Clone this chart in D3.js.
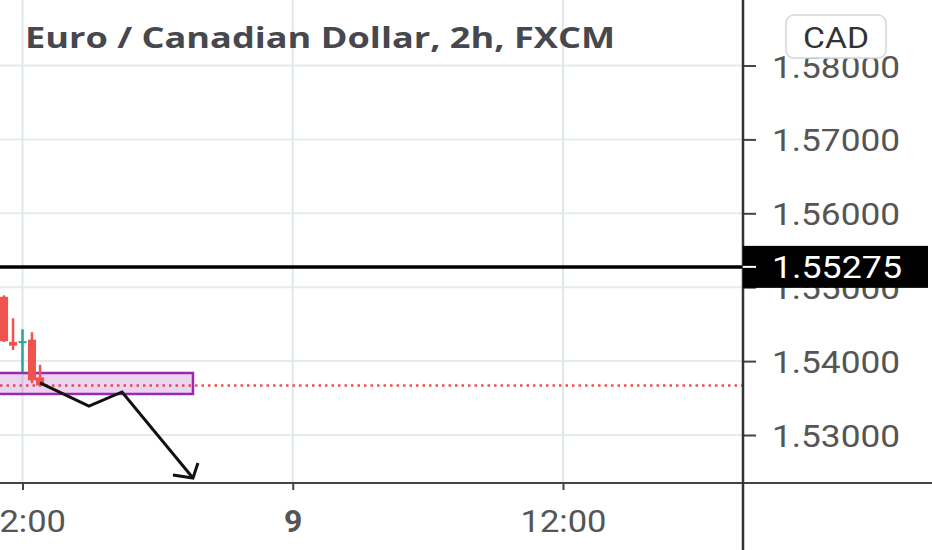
<!DOCTYPE html>
<html>
<head>
<meta charset="utf-8">
<script src="https://cdn.jsdelivr.net/npm/d3@7"></script>
<style>
html,body{margin:0;padding:0;background:#fff;}
svg{display:block;}
</style>
</head>
<body>
<svg id="chart" width="932" height="550"></svg>
<script>
// ---- data ----
const title = "Euro / Canadian Dollar, 2h, FXCM";
const currency = "CAD";
// candle times (hours from day 8 00:00), OHLC
const candleTime  = [11.18, 11.58, 12.0, 12.42, 12.78];
const candleOpen  = [1.5487, 1.5426, 1.5425, 1.5429, 1.5378];
const candleHigh  = [1.5489, 1.5458, 1.5443, 1.5439, 1.5395];
const candleLow   = [1.5426, 1.5415, 1.5385, 1.5370, 1.5367];
const candleClose = [1.5427, 1.5421, 1.5427, 1.5374, 1.5367];
const yTicks = [1.53, 1.54, 1.55, 1.56, 1.57, 1.58];
const xTickHours  = [12, 24, 36];
const xTickLabels = ["12:00", "9", "12:00"];
const xTickBold   = [false, true, false];
const priceLine = 1.55275;
const lastPrice = 1.5367;
// drawn zone (rectangle) and arrow path
const zoneTime  = [10.9, 19.57];
const zonePrice = [1.53839, 1.53555];
const arrowTime  = [12.78, 14.95, 16.42, 19.57];
const arrowPrice = [1.53704, 1.53392, 1.53582, 1.52418];
const arrowHeadTime  = [18.68, 19.57, 19.79];
const arrowHeadPrice = [1.52459, 1.52418, 1.52621];

// ---- layout ----
const W = 932, H = 550;
const axisX = 743, axisY = 483;
const svg = d3.select("#chart");

const x = d3.scaleLinear().domain([12, 36]).range([22.5, 563]);
const y = d3.scaleLinear().domain([1.53, 1.58]).range([435, 65.5]);

const gridColor = "#e4ebee";

// grid
svg.append("g").selectAll("line.h").data(yTicks).join("line")
  .attr("x1", 0).attr("x2", axisX)
  .attr("y1", d => y(d)).attr("y2", d => y(d))
  .attr("stroke", gridColor).attr("stroke-width", 2);
svg.append("g").selectAll("line.v").data(xTickHours).join("line")
  .attr("x1", d => x(d)).attr("x2", d => x(d))
  .attr("y1", 0).attr("y2", axisY)
  .attr("stroke", "#dfe8eb").attr("stroke-width", 2);

// title
svg.append("text")
  .attr("x", 25).attr("y", 48)
  .attr("font-family", "'Open Sans', sans-serif")
  .attr("font-weight", 700)
  .attr("font-size", 28)
  .attr("fill", "#46484e")
  .attr("textLength", 590).attr("lengthAdjust", "spacingAndGlyphs")
  .text(title);

// last price dotted line
svg.append("line")
  .attr("x1", 0).attr("x2", axisX)
  .attr("y1", y(lastPrice)).attr("y2", y(lastPrice))
  .attr("stroke", "#ef5350").attr("stroke-width", 2.5)
  .attr("stroke-dasharray", "2.5,4");

// zone rect
svg.append("rect")
  .attr("x", x(zoneTime[0])).attr("y", y(zonePrice[0]))
  .attr("width", x(zoneTime[1]) - x(zoneTime[0]))
  .attr("height", y(zonePrice[1]) - y(zonePrice[0]))
  .attr("fill", "rgba(156,39,176,0.2)")
  .attr("stroke", "#9c27b0").attr("stroke-width", 2.5);

// candles
const candles = candleTime.map((t, i) => ({
  t, o: candleOpen[i], h: candleHigh[i], l: candleLow[i], c: candleClose[i]
}));
const bw = x(12.36) - x(12);
const cg = svg.append("g");
cg.selectAll("line").data(candles).join("line")
  .attr("x1", d => x(d.t)).attr("x2", d => x(d.t))
  .attr("y1", d => y(d.h)).attr("y2", d => y(d.l))
  .attr("stroke", d => d.c >= d.o ? "#26a69a" : "#ef5350")
  .attr("stroke-width", 2.5);
cg.selectAll("rect").data(candles).join("rect")
  .attr("x", d => x(d.t) - bw / 2)
  .attr("width", bw)
  .attr("y", d => y(Math.max(d.o, d.c)))
  .attr("height", d => Math.max(2, Math.abs(y(d.o) - y(d.c))))
  .attr("fill", d => d.c >= d.o ? "#26a69a" : "#ef5350");

// arrow
const line = d3.line().x(d => x(d[0])).y(d => y(d[1]));
svg.append("path")
  .attr("d", line(arrowTime.map((t, i) => [t, arrowPrice[i]])))
  .attr("fill", "none").attr("stroke", "#111").attr("stroke-width", 3)
  .attr("stroke-linejoin", "miter");
svg.append("path")
  .attr("d", line(arrowHeadTime.map((t, i) => [t, arrowHeadPrice[i]])))
  .attr("fill", "none").attr("stroke", "#111").attr("stroke-width", 3);

// price line
svg.append("line")
  .attr("x1", 0).attr("x2", axisX)
  .attr("y1", y(priceLine)).attr("y2", y(priceLine))
  .attr("stroke", "#000").attr("stroke-width", 3.5);

// axes
const yAxis = d3.axisRight(y).tickValues(yTicks).tickSize(13).tickPadding(16)
  .tickFormat(d3.format(".5f"));
const gy = svg.append("g").attr("transform", `translate(${axisX},0)`).call(yAxis);
gy.select(".domain").remove();
gy.selectAll(".tick line").attr("stroke", "#444").attr("stroke-width", 2);
gy.selectAll(".tick text")
  .attr("font-family", "Roboto, sans-serif").attr("font-size", 32)
  .attr("fill", "#555").attr("dy", "0.36em")
  .attr("textLength", 128).attr("lengthAdjust", "spacingAndGlyphs");

const xAxis = d3.axisBottom(x).tickValues(xTickHours).tickSize(7).tickPadding(19)
  .tickFormat((d, i) => xTickLabels[i]);
const gx = svg.append("g").attr("transform", `translate(0,${axisY})`).call(xAxis);
gx.select(".domain").remove();
gx.selectAll(".tick line").attr("stroke", "#444").attr("stroke-width", 2);
gx.selectAll(".tick text")
  .attr("font-family", "Roboto, sans-serif").attr("font-size", 32)
  .attr("fill", "#555")
  .attr("font-weight", (d, i) => xTickBold[i] ? 700 : 400)
  .each(function (d, i) {
    if (!xTickBold[i]) d3.select(this).attr("textLength", 86).attr("lengthAdjust", "spacingAndGlyphs");
  });

// axis lines
svg.append("line").attr("x1", 0).attr("x2", W).attr("y1", axisY).attr("y2", axisY)
  .attr("stroke", "#444").attr("stroke-width", 2);
svg.append("line").attr("x1", axisX).attr("x2", axisX).attr("y1", 0).attr("y2", H)
  .attr("stroke", "#333").attr("stroke-width", 2.5);

// price label
const py = y(priceLine);
svg.append("rect").attr("x", axisX).attr("y", py - 21).attr("width", 185).attr("height", 42)
  .attr("fill", "#000");
svg.append("line").attr("x1", axisX).attr("x2", axisX + 13).attr("y1", py).attr("y2", py)
  .attr("stroke", "#fff").attr("stroke-width", 2);
svg.append("text").attr("x", axisX + 29).attr("y", py).attr("dy", "0.36em")
  .attr("font-family", "Roboto, sans-serif").attr("font-size", 32)
  .attr("fill", "#fff")
  .attr("textLength", 130).attr("lengthAdjust", "spacingAndGlyphs")
  .text(d3.format(".5f")(priceLine));

// currency button
svg.append("rect").attr("x", 786).attr("y", 15).attr("width", 100).attr("height", 43)
  .attr("rx", 8).attr("fill", "#fff").attr("stroke", "#d4d7da").attr("stroke-width", 1.5);
svg.append("text").attr("x", 836).attr("y", 37).attr("dy", "0.36em")
  .attr("text-anchor", "middle")
  .attr("font-family", "Roboto, sans-serif").attr("font-size", 30)
  .attr("fill", "#333")
  .attr("textLength", 66).attr("lengthAdjust", "spacingAndGlyphs")
  .text(currency);
</script>
</body>
</html>
